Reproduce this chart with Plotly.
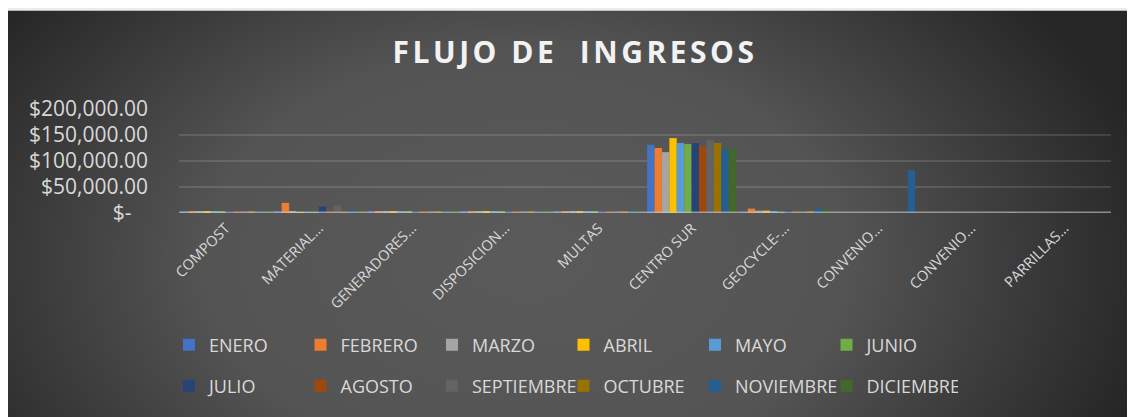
import base64
import plotly.graph_objects as go

categories = ["COMPOST", "MATERIAL RECICLABLE", "GENERADORES", "DISPOSICION", "MULTAS",
              "CENTRO SUR", "GEOCYCLE", "CONVENIO 1", "CONVENIO 2", "PARRILLAS"]
tick_labels = ["COMPOST", "MATERIAL…", "GENERADORES…", "DISPOSICION…", "MULTAS",
               "CENTRO SUR", "GEOCYCLE-…", "CONVENIO…", "CONVENIO…", "PARRILLAS…"]

months = ["ENERO", "FEBRERO", "MARZO", "ABRIL", "MAYO", "JUNIO",
          "JULIO", "AGOSTO", "SEPTIEMBRE", "OCTUBRE", "NOVIEMBRE", "DICIEMBRE"]

enero      = [2500, 2000, 2500, 2500, 2500, 131000, 1000, 0, 0, 0]
febrero    = [2500, 19500, 2500, 2500, 2500, 125000, 8500, 0, 0, 0]
marzo      = [2500, 2500, 2500, 2500, 2500, 117000, 4500, 0, 0, 0]
abril      = [2500, 1500, 2500, 2500, 2500, 144000, 4500, 0, 0, 0]
mayo       = [2500, 1500, 2500, 2500, 2500, 134500, 3000, 0, 0, 0]
junio      = [2500, 1500, 2500, 2500, 2500, 132500, 1000, 0, 0, 0]
julio      = [2500, 12400, 2500, 2500, 2500, 134500, 4500, 0, 0, 1500]
agosto     = [2500, 2000, 2500, 2500, 2500, 129000, 3000, 0, 0, 0]
septiembre = [2500, 14300, 2500, 2500, 2500, 140000, 1000, 0, 0, 0]
octubre    = [2500, 1500, 2500, 2500, 2500, 134500, 3000, 0, 0, 0]
noviembre  = [2500, 4800, 2500, 2500, 2500, 123000, 10000, 83000, 0, 0]
diciembre  = [2500, 4800, 2500, 2500, 2500, 125000, 6500, 0, 1500, 0]

series = [enero, febrero, marzo, abril, mayo, junio,
          julio, agosto, septiembre, octubre, noviembre, diciembre]

colors = ["#4472C4", "#ED7D31", "#A5A5A5", "#FFC000", "#5B9BD5", "#70AD47",
          "#264478", "#9E480E", "#636363", "#997300", "#255E91", "#43682B"]

y_ticks = [0, 50000, 100000, 150000, 200000]
y_tick_text = ["$-\u00a0\u00a0\u00a0", "$50,000.00", "$100,000.00", "$150,000.00", "$200,000.00"]

FONT = "Open Sans"
TXT = "#d9d9d9"

fig = go.Figure()
for i, (m, vals, c) in enumerate(zip(months, series, colors)):
    fig.add_trace(go.Bar(
        x=categories, y=vals, name=m,
        marker=dict(color=c, line=dict(width=0)),
        legend="legend" if i < 6 else "legend2",
    ))

# page body has an 8px margin: lay everything out 8px up/left
OFF = 8

# background gradient panel (svg)
W, H = 1121, 415
svg = f'''<svg xmlns="http://www.w3.org/2000/svg" width="{W}" height="{H}" viewBox="0 0 {W} {H}">
<defs><radialGradient id="g" gradientUnits="userSpaceOnUse" cx="520" cy="250" r="640"
 gradientTransform="translate(520 250) scale(1 0.656) translate(-520 -250)">
<stop offset="0" stop-color="#5a5a5a"/><stop offset="0.5" stop-color="#545454"/>
<stop offset="1" stop-color="#262626"/></radialGradient></defs>
<rect x="0" y="0" width="{W}" height="{H}" fill="url(#g)"/></svg>'''
src = "data:image/svg+xml;base64," + base64.b64encode(svg.encode()).decode()

L = 179 - OFF
T = 109 - OFF
R = 1135 - (1111 - OFF)
B = 417 - (213.5 - OFF)
pw = 1135 - L - R
ph = 417 - T - B
fig.add_layout_image(dict(
    source=src, xref="paper", yref="paper",
    x=((6 - OFF) - L) / pw, y=((417 - B) - (10 - OFF)) / ph,
    sizex=W / pw, sizey=H / ph,
    xanchor="left", yanchor="top", sizing="stretch", layer="below",
))

fig.add_shape(type="line", xref="paper", yref="y", x0=0, x1=1, y0=0, y1=0,
              line=dict(color="rgba(205,205,205,0.6)", width=3), layer="above")

legend_common = dict(
    orientation="h", xref="container", yref="container",
    xanchor="left", yanchor="middle",
    font=dict(family=FONT, size=18, color=TXT),
    bgcolor="rgba(0,0,0,0)", entrywidth=86.5, entrywidthmode="pixels",
    traceorder="normal",
)

fig.update_layout(
    width=1135, height=417,
    margin=dict(l=L, r=R, t=T, b=B, autoexpand=False),
    paper_bgcolor="#ececec",
    plot_bgcolor="rgba(0,0,0,0)",
    barmode="group", bargap=0.045, bargroupgap=0,
    title=dict(
        text='<b><span style="letter-spacing:3.5px">FLUJO DE  INGRESOS</span></b>',
        xref="container", yref="container", x=(575 - OFF) / 1135, y=1 - (52 - OFF) / 417,
        xanchor="center", yanchor="middle",
        font=dict(family=FONT, size=30, color="#f2f2f2"),
    ),
    legend=dict(x=161 / 1135, y=1 - (345 - OFF) / 417, **legend_common),
    legend2=dict(x=161 / 1135, y=1 - (386 - OFF) / 417, **legend_common),
    xaxis=dict(
        tickmode="array", tickvals=categories, ticktext=tick_labels,
        tickangle=-45, tickfont=dict(family=FONT, size=14.5, color=TXT),
        showgrid=False, showline=False, zeroline=False, ticks="",
        ticklabelstandoff=3,
    ),
    yaxis=dict(
        range=[0, 200000], tickmode="array", tickvals=y_ticks, ticktext=y_tick_text,
        tickfont=dict(family=FONT, size=21, color=TXT),
        showgrid=True, gridcolor="rgba(255,255,255,0.12)", gridwidth=1.5,
        zeroline=False, showline=False, ticks="", ticklabelstandoff=30,
    ),
)

fig.write_html("out.html")
